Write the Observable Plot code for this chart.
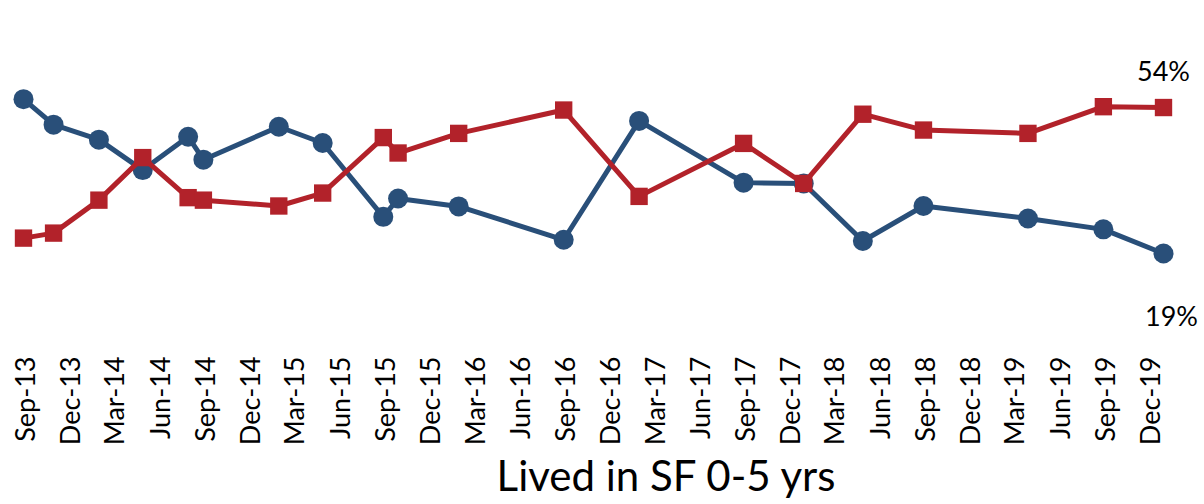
<!DOCTYPE html>
<html>
<head>
<meta charset="utf-8">
<script src="https://cdn.jsdelivr.net/npm/d3@7"></script>
<script src="https://cdn.jsdelivr.net/npm/@observablehq/plot@0.6"></script>
<style>
  html, body { margin: 0; padding: 0; background: #fff; }
  #chart { width: 1204px; }
  #title {
    width: 1204px; box-sizing: border-box; padding-left: 128px;
    text-align: center; font-family: Lato, sans-serif; font-size: 42px;
    line-height: 50px; color: #000; margin: 0;
  }
</style>
</head>
<body>
<div id="chart"></div>
<div id="title">Lived in SF 0-5 yrs</div>
<script>
// ---- data ----
const surveyDates = ["2013-09","2013-11","2014-02","2014-05","2014-08","2014-09","2015-02","2015-05","2015-09","2015-10","2016-02","2016-09","2017-02","2017-09","2018-01","2018-05","2018-09","2019-04","2019-09","2020-01"];
const blueSeries = [56.0, 49.9, 46.3, 39.0, 47.0, 41.5, 49.4, 45.5, 27.8, 32.2, 30.3, 22.3, 50.8, 36.0, 35.8, 22.0, 30.4, 27.4, 24.8, 19.0];
const redSeries  = [22.7, 23.9, 31.8, 42.0, 32.4, 31.8, 30.4, 33.5, 46.8, 43.1, 47.8, 53.4, 32.7, 45.4, 35.8, 52.4, 48.6, 47.8, 54.2, 54.0];
const tickLabels = ["Sep-13","Dec-13","Mar-14","Jun-14","Sep-14","Dec-14","Mar-15","Jun-15","Sep-15","Dec-15","Mar-16","Jun-16","Sep-16","Dec-16","Mar-17","Jun-17","Sep-17","Dec-17","Mar-18","Jun-18","Sep-18","Dec-18","Mar-19","Jun-19","Sep-19","Dec-19"];

const parseMonth = d3.utcParse("%Y-%m");
const parseTick = d3.utcParse("%b-%y");
const fmtTick = d3.utcFormat("%b-%y");

const blueData = surveyDates.map((d, i) => ({date: parseMonth(d), value: blueSeries[i]}));
const redData = surveyDates.map((d, i) => ({date: parseMonth(d), value: redSeries[i]}));
const ticks = tickLabels.map(parseTick);

const BLUE = "#294f79";
const RED = "#b2222a";

const chart = Plot.plot({
  width: 1204,
  height: 450,
  marginLeft: 23,
  marginRight: 41,
  marginTop: 82,
  marginBottom: 101,
  style: {fontFamily: "Lato, sans-serif", fontSize: "27px", color: "#000", background: "#fff"},
  x: {type: "utc"},
  y: {domain: [-4, 60], axis: null},
  marks: [
    Plot.axisX({ticks, tickFormat: fmtTick, tickRotate: -90, tickSize: 0, tickPadding: 7, dx: 3, fontSize: 27, label: null}),
    Plot.lineY(blueData, {x: "date", y: "value", stroke: BLUE, strokeWidth: 5}),
    Plot.dot(blueData, {x: "date", y: "value", r: 10, fill: BLUE, symbol: "circle"}),
    Plot.lineY(redData, {x: "date", y: "value", stroke: RED, strokeWidth: 5}),
    Plot.dot(redData, {x: "date", y: "value", r: 9.8, fill: RED, symbol: "square"}),
    Plot.text(redData.slice(-1), {x: "date", y: "value", text: d => Math.round(d.value) + "%", lineAnchor: "bottom", dy: -27, fontSize: 27, fill: "#000"}),
    Plot.text(blueData.slice(-1), {x: "date", y: "value", text: d => Math.round(d.value) + "%", lineAnchor: "bottom", dy: 72, dx: 8, fontSize: 27, fill: "#000"})
  ]
});
document.getElementById("chart").appendChild(chart);
</script>
</body>
</html>
